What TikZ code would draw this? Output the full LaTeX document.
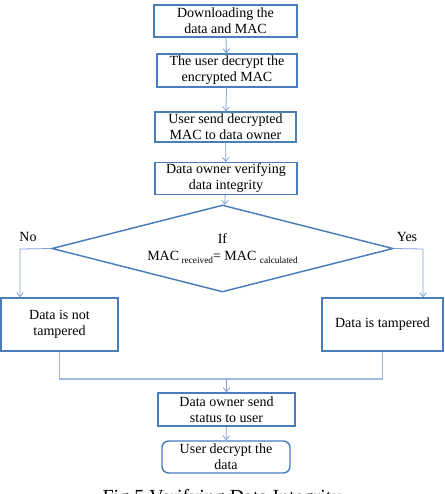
\documentclass[tikz,border=0pt]{standalone}
\usepackage{fontspec}
\setmainfont{Liberation Serif}
\usetikzlibrary{shapes.geometric,arrows.meta}
\definecolor{boxblue}{HTML}{4A7EBB}
\definecolor{arrowblue}{HTML}{7FA0D2}
\definecolor{joinblue}{HTML}{A3BADF}

\begin{document}
\begin{tikzpicture}[x=0.75pt,y=-0.75pt,
  every node/.style={font=\fontsize{10.5}{12}\selectfont},
  stepbox/.style={draw=boxblue,line width=1.1pt,align=center,inner sep=1pt},
  flow/.style={draw=arrowblue,line width=0.6pt,-{Straight Barb[length=3pt,width=5pt]}},
  joinline/.style={draw=joinblue,line width=0.8pt}]
\useasboundingbox (0,0) rectangle (444,494);

\node[stepbox,minimum width=107pt,minimum height=24pt] (down) at (225.5,21) {Downloading the\\data and MAC};
\node[stepbox,minimum width=105pt,minimum height=24.75pt] (decmac) at (227,70.5) {The user decrypt the\\encrypted MAC};
\node[stepbox,minimum width=106pt,minimum height=22.5pt] (send) at (225.5,127) {User send decrypted\\MAC to data owner};
\node[stepbox,minimum width=106.5pt,minimum height=23.25pt] (verify) at (226,178.5) {Data owner verifying\\data integrity};
\node[diamond,draw=boxblue,line width=1.1pt,aspect=4,inner sep=0pt,align=center,
      minimum width=256pt,minimum height=65.25pt] (check) at (222.5,248.5)
      {If\\[1pt]MAC\,\raisebox{-0.5ex}{\scriptsize received}= MAC \raisebox{-0.5ex}{\scriptsize calculated}};
\node[stepbox,minimum width=88pt,minimum height=39.75pt] (ok) at (59.5,324.5) {Data is not\\tampered};
\node[stepbox,minimum width=91pt,minimum height=39.75pt] (bad) at (382.5,324.5) {Data is tampered};
\node[stepbox,minimum width=103pt,minimum height=24.75pt] (status) at (226.5,409.5) {Data owner send\\status to user};
\node[stepbox,rounded corners=5pt,minimum width=96pt,minimum height=24pt] (decdata) at (226,457) {User decrypt the\\data};

\node (no) at (28,237) {No};
\node (yes) at (407,237) {Yes};
\coordinate (nocorner) at (20,249);
\coordinate (yescorner) at (423,249);
\coordinate (merge) at (226.5,379);

\draw[flow] (down) -- (decmac);
\draw[flow] (decmac) -- (send);
\draw[flow] (send) -- (verify);
\draw[flow] (verify) -- (check);
\draw[flow] (check.west) -- (nocorner) -- (nocorner |- ok.north);
\draw[flow] (check.east) -- (yescorner) -- (yescorner |- bad.north);
\draw[joinline] (ok.south) |- (merge) -| (bad.south);
\draw[flow] (merge) -- (status);
\draw[flow] (status) -- (decdata);

\node[font=\fontsize{15}{18}\selectfont,anchor=base] (caption) at (222,503) {Fig 5 Verifying Data Integrity};
\end{tikzpicture}
\end{document}
